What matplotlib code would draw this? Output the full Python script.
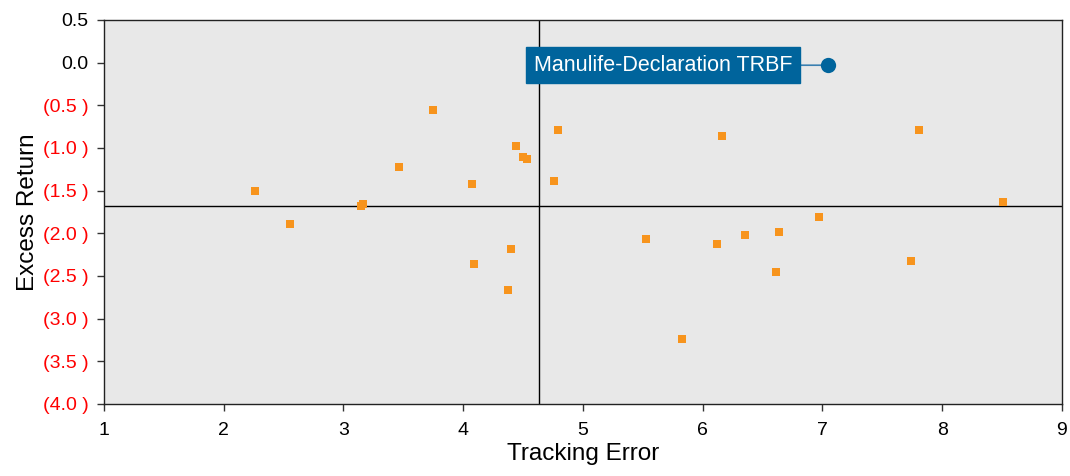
import matplotlib.pyplot as plt
from matplotlib.ticker import FuncFormatter

plt.rcParams['font.family'] = ['Liberation Sans', 'DejaVu Sans']

# peer funds
tracking_error = [2.26, 2.55, 3.75, 3.46, 3.15, 3.16, 4.07, 4.44, 4.50, 4.53,
                  4.76, 4.79, 4.09, 4.40, 4.37, 5.53, 5.83, 6.12, 6.16, 6.35,
                  6.64, 6.61, 6.97, 7.74, 7.81, 8.51]
excess_return = [-1.50, -1.89, -0.56, -1.22, -1.68, -1.66, -1.42, -0.98, -1.10, -1.13,
                 -1.39, -0.79, -2.36, -2.18, -2.67, -2.07, -3.24, -2.13, -0.86, -2.02,
                 -1.99, -2.45, -1.81, -2.32, -0.79, -1.63]

# highlighted fund
fund_name = 'Manulife-Declaration TRBF'
fund_te = 7.05
fund_er = -0.03

# crosshair (peer averages)
avg_te = 4.63
avg_er = -1.675

x_ticks = [1, 2, 3, 4, 5, 6, 7, 8, 9]
y_ticks = [0.5, 0.0, -0.5, -1.0, -1.5, -2.0, -2.5, -3.0, -3.5, -4.0]

BLUE = '#00649C'
ORANGE = '#F7941D'


def fmt_y(v, pos):
    if v < -1e-9:
        return '(%.1f )' % -v
    return '%.1f' % abs(v)


fig = plt.figure(figsize=(10.7, 4.76), dpi=100)
ax = fig.add_axes([0.0972, 0.1513, 0.8953, 0.8067])
ax.set_facecolor('#E8E8E8')

ax.axvline(avg_te, color='black', lw=1, zorder=1)
ax.axhline(avg_er, color='black', lw=1, zorder=1)

ax.plot(tracking_error, excess_return, 's', color=ORANGE, ms=5.5, mew=0, zorder=3)
ax.plot([fund_te], [fund_er], 'o', color=BLUE, ms=11, mew=0, zorder=5)

ax.annotate(fund_name, xy=(fund_te, fund_er), xytext=(-26, 0),
            textcoords='offset points', ha='right', va='center',
            fontsize=15.5, color='white', zorder=4,
            bbox=dict(boxstyle='square,pad=0.36', fc=BLUE, ec=BLUE),
            arrowprops=dict(arrowstyle='-', color='#3A7FB0', lw=1.2,
                            shrinkA=0, shrinkB=0))

ax.set_xlim(1, 9)
ax.set_ylim(-4.0, 0.5)
ax.set_xticks(x_ticks)
ax.set_yticks(y_ticks)
ax.yaxis.set_major_formatter(FuncFormatter(fmt_y))
for lbl, v in zip(ax.get_yticklabels(), y_ticks):
    lbl.set_color('red' if v < 0 else 'black')

ax.tick_params(direction='out', length=5, width=1, labelsize=14, color='#333333')
ax.tick_params(axis='y', pad=6)
ax.tick_params(axis='x', pad=8)
for s in ax.spines.values():
    s.set_color('#222222')
    s.set_linewidth(1)

ax.set_xlabel('Tracking Error', fontsize=17.5, labelpad=3)
ax.set_ylabel('Excess Return', fontsize=17.5, labelpad=3)

fig.savefig('out.png', dpi=100)
